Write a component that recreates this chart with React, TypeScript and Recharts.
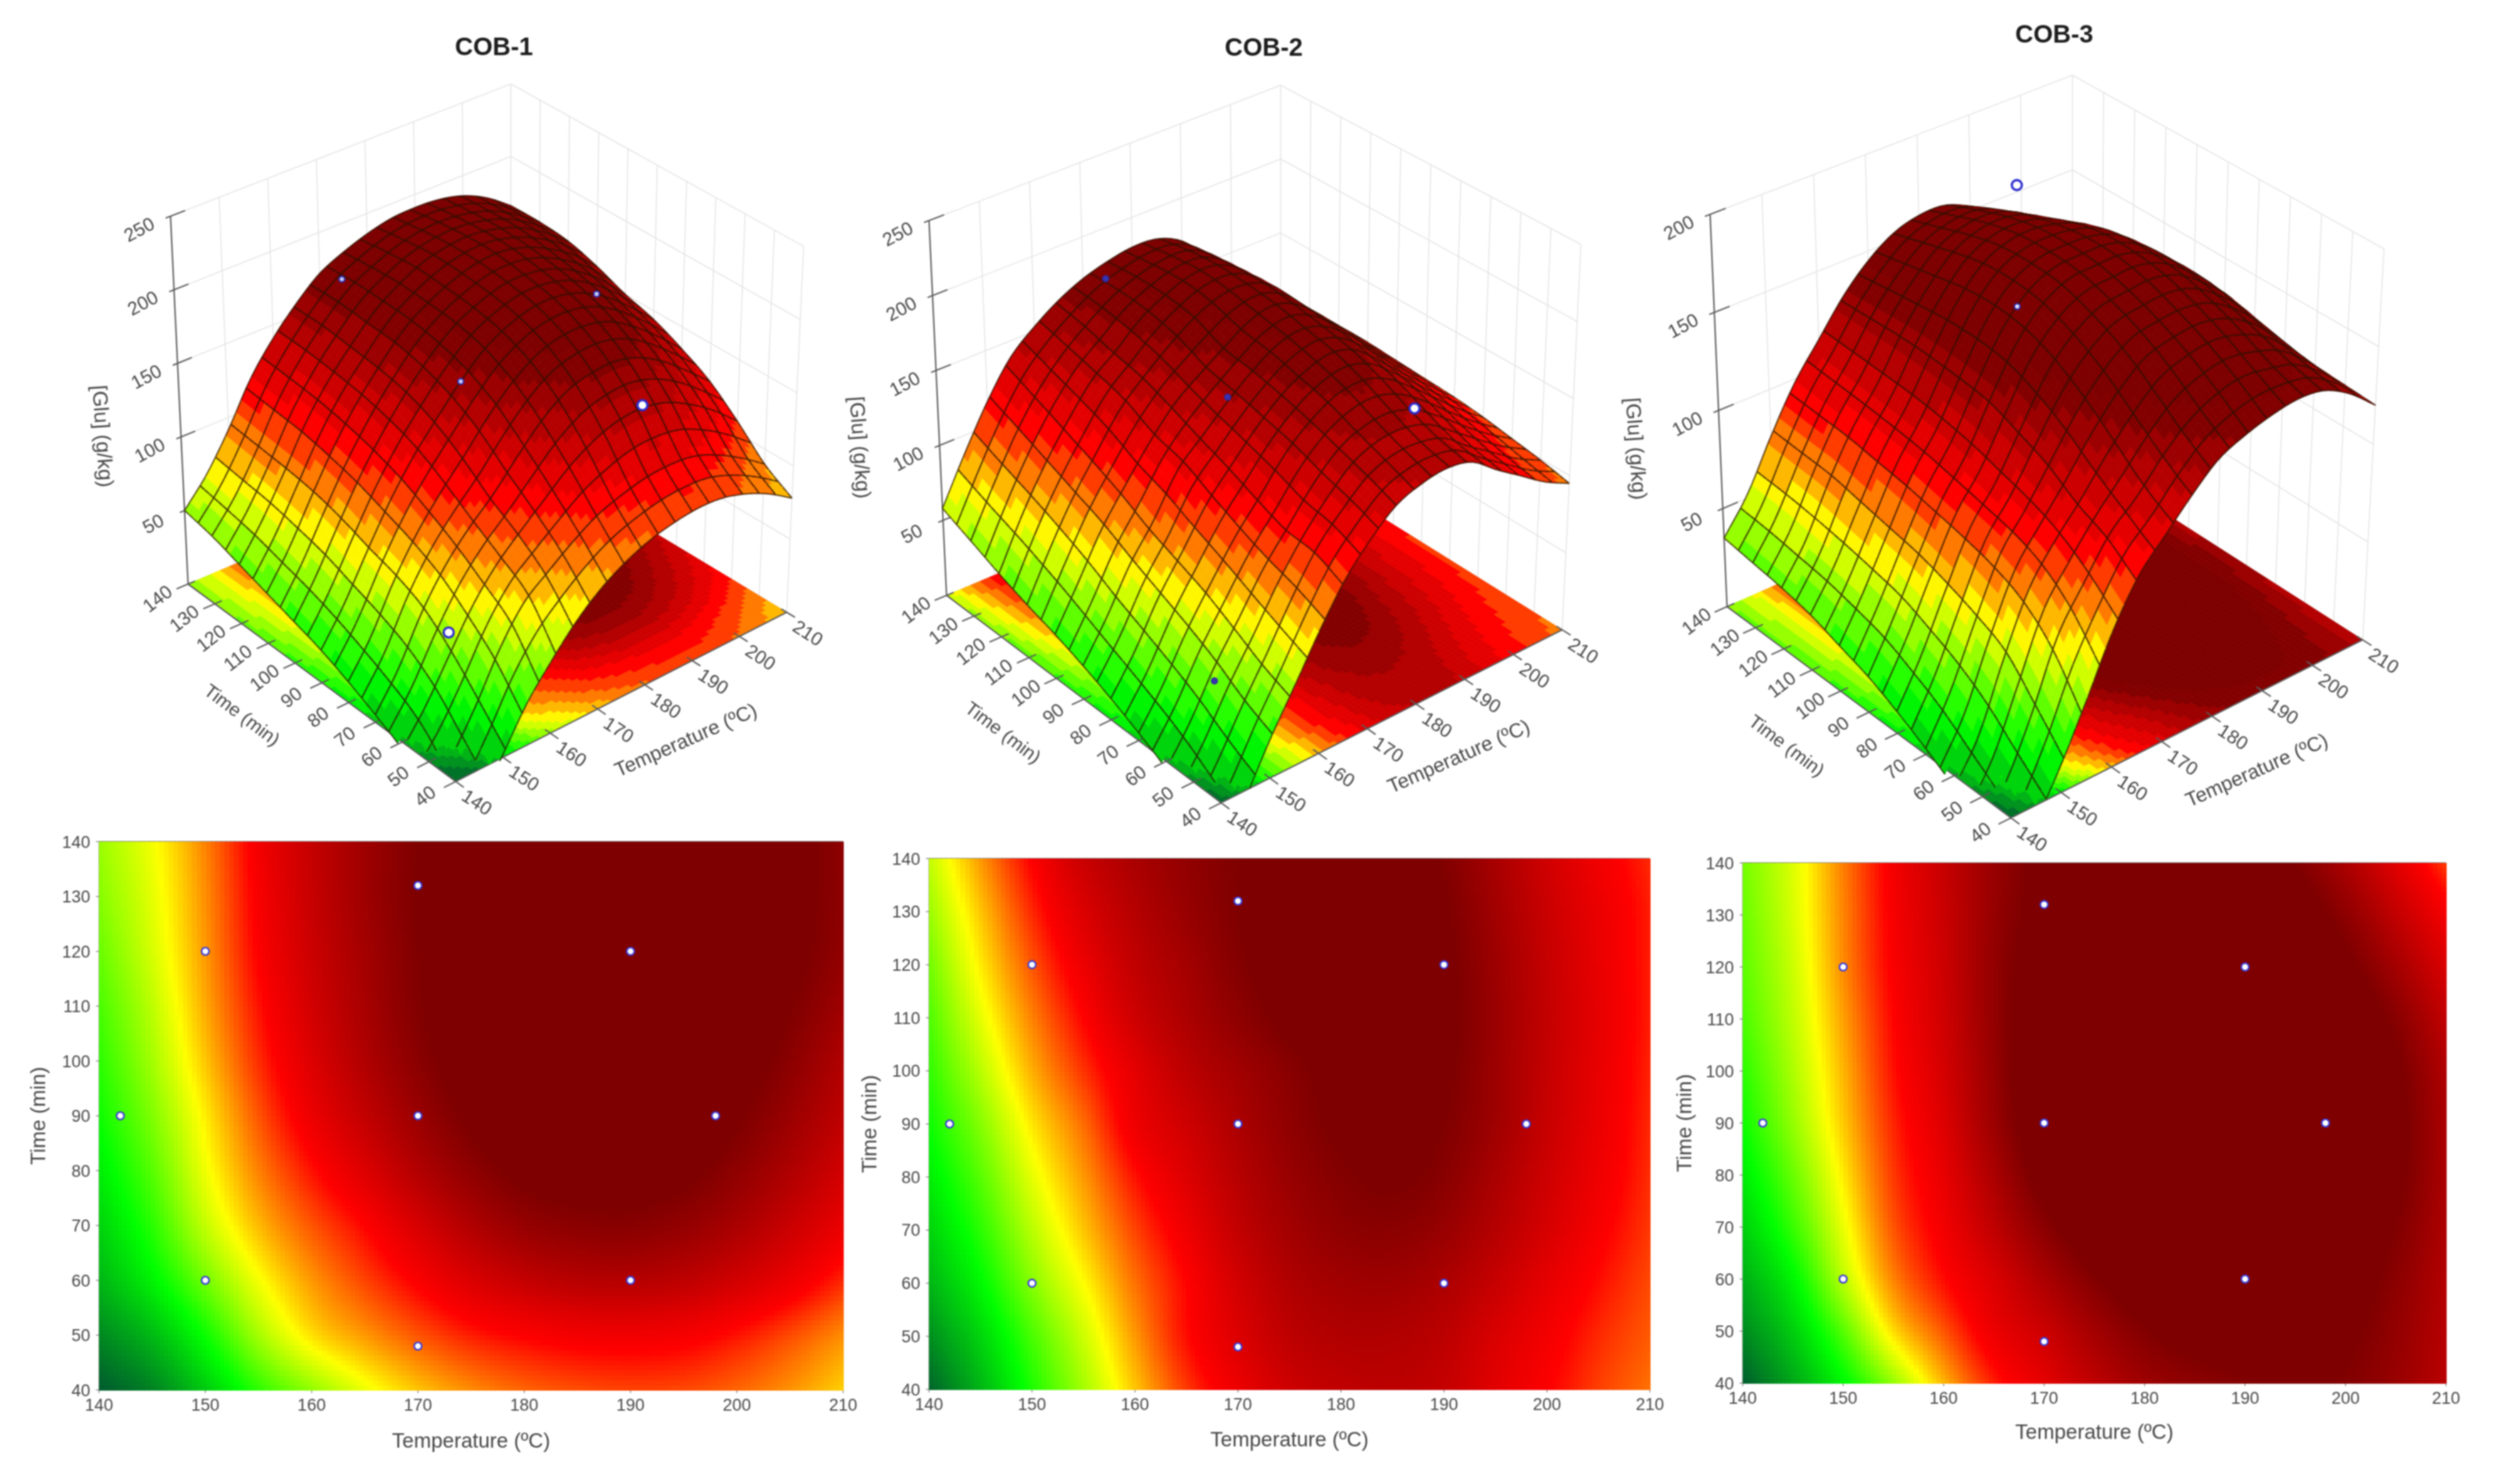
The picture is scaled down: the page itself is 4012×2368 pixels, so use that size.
import { ScatterChart, Scatter, XAxis, YAxis, ReferenceLine } from 'recharts';

// shared axes of all six panels
const temperatures = [140, 145, 150, 155, 160, 165, 170, 175, 180, 185, 190, 195, 200, 205, 210];
const times = [40, 50, 60, 70, 80, 90, 100, 110, 120, 130, 140];
const temperatureTicks = [140, 150, 160, 170, 180, 190, 200, 210];
const gluTicksHigh = [50, 100, 150, 200, 250];
const gluTicksLow = [50, 100, 150, 200];

// design points of the contour maps
const designTemperature = [142, 150, 150, 170, 170, 170, 190, 190, 198];
const designTime = [90, 60, 120, 48, 90, 132, 60, 120, 90];

// [Glu], one row per time (40 to 140), one column per temperature
const cob1Glu = [
  [-35, -22, 2, 28, 48, 66, 80, 90, 97, 101, 103, 102, 97, 89, 78],
  [-20, -3, 22, 52, 75, 88, 100, 110, 116, 120, 121, 119, 112, 102, 90],
  [-5, 16, 42, 68, 88, 103, 117, 131, 141, 147, 148, 144, 135, 123, 108],
  [5, 28, 58, 82, 100, 115, 133, 150, 162, 167, 168, 163, 153, 139, 124],
  [14, 37, 67, 92, 112, 130, 149, 165, 176, 181, 181, 176, 165, 151, 135],
  [22, 45, 73, 100, 123, 142, 160, 175, 184, 189, 189, 184, 174, 160, 144],
  [28, 52, 80, 107, 130, 150, 167, 180, 188, 193, 193, 189, 180, 167, 150],
  [34, 57, 85, 112, 135, 154, 171, 182, 190, 195, 196, 192, 184, 173, 158],
  [40, 62, 88, 116, 138, 156, 172, 183, 191, 195, 196, 193, 187, 177, 164],
  [46, 65, 90, 118, 140, 158, 173, 182, 189, 193, 194, 192, 187, 178, 166],
  [50, 68, 92, 120, 141, 158, 172, 180, 186, 190, 191, 190, 186, 178, 166],
];
const cob2Glu = [
  [-32, -5, 25, 52, 80, 105, 123, 137, 143, 145, 141, 128, 116, 104, 95],
  [-18, 6, 34, 60, 88, 113, 130, 144, 150, 150, 145, 132, 120, 108, 99],
  [-5, 18, 46, 70, 95, 115, 135, 150, 157, 158, 152, 140, 126, 113, 102],
  [5, 28, 56, 80, 103, 122, 142, 156, 165, 167, 161, 148, 133, 118, 105],
  [14, 37, 65, 88, 112, 130, 147, 161, 170, 174, 168, 153, 137, 122, 107],
  [22, 46, 74, 96, 122, 137, 152, 165, 175, 178, 172, 158, 140, 124, 108],
  [29, 56, 84, 106, 127, 145, 157, 168, 178, 182, 175, 159, 141, 125, 109],
  [35, 65, 92, 115, 137, 152, 165, 176, 183, 184, 177, 160, 142, 126, 110],
  [42, 73, 100, 123, 143, 156, 170, 179, 185, 185, 176, 159, 141, 125, 110],
  [50, 80, 108, 131, 148, 161, 172, 179, 183, 183, 174, 157, 139, 124, 110],
  [58, 88, 116, 139, 153, 164, 172, 177, 180, 179, 171, 154, 136, 121, 108],
];
const cob3Glu = [
  [-28, -8, 14, 40, 68, 90, 104, 118, 130, 136, 140, 142, 140, 132, 120],
  [-16, 3, 30, 62, 82, 101, 113, 128, 140, 147, 150, 148, 144, 134, 121],
  [-6, 14, 46, 75, 93, 108, 125, 140, 152, 157, 159, 156, 149, 137, 122],
  [3, 25, 54, 82, 99, 118, 137, 152, 162, 165, 166, 163, 154, 141, 124],
  [11, 33, 60, 86, 103, 125, 147, 161, 169, 171, 172, 168, 158, 145, 125],
  [18, 40, 65, 89, 107, 131, 153, 167, 174, 175, 175, 170, 160, 146, 125],
  [23, 44, 68, 92, 110, 133, 155, 169, 175, 176, 175, 170, 159, 144, 123],
  [28, 47, 71, 94, 112, 134, 154, 168, 174, 175, 172, 166, 154, 138, 117],
  [31, 49, 74, 96, 113, 134, 151, 164, 170, 171, 167, 158, 145, 128, 108],
  [33, 51, 75, 97, 114, 133, 148, 159, 164, 165, 160, 150, 136, 117, 98],
  [35, 52, 76, 98, 115, 132, 145, 154, 158, 158, 152, 141, 125, 105, 86],
];

// measured points that show on the 3D views
const cob1PointTemperature = [150, 190, 170, 170, 198];
const cob1PointTime = [60, 60, 90, 132, 90];
const cob1PointGlu = [58, 150, 160, 178, 179];
const cob1PointOnTop = [true, true, false, false, false];
const cob2PointTemperature = [170, 170, 190, 150];
const cob2PointTime = [132, 90, 60, 60];
const cob2PointGlu = [182, 155, 153, 37];
const cob2PointOnTop = [false, false, true, false];
const cob3PointTemperature = [170, 170];
const cob3PointTime = [90, 90];
const cob3PointGlu = [233, 171];
const cob3PointOnTop = [true, false];

const FONT = '"Liberation Sans", Arial, sans-serif';
const TEXT = '#474747';
const PAGE_W = 4012;
const TOP_H = 1500;

type Pt = [number, number];
type Box = { floor: Pt[]; top: Pt[] }; // front, right, back, left

const lerp = (a: number, b: number, f: number) => a + (b - a) * f;

const project = (box: Box, zTop: number, T: number, t: number, z: number) => {
  const u = (T - 140) / 70;
  const v = (t - 40) / 100;
  const w = z / zTop;
  const on = (q: Pt[], k: number) => lerp(lerp(q[0][k], q[1][k], u), lerp(q[3][k], q[2][k], u), v);
  return { sx: lerp(on(box.floor, 0), on(box.top, 0), w), sy: lerp(on(box.floor, 1), on(box.top, 1), w) };
};

const RAMP: [number, number, number, number][] = [
  [-35, 0, 90, 46],
  [20, 0, 255, 0],
  [70, 255, 255, 0],
  [115, 255, 0, 0],
  [172, 128, 0, 0],
];

const rampColor = (z: number, scale: number) => {
  const v = z / scale;
  if (v <= RAMP[0][0]) return `rgb(${RAMP[0][1]},${RAMP[0][2]},${RAMP[0][3]})`;
  for (let i = 1; i < RAMP.length; i++) {
    if (v <= RAMP[i][0]) {
      const f = (v - RAMP[i - 1][0]) / (RAMP[i][0] - RAMP[i - 1][0]);
      const c = [1, 2, 3].map(k => Math.round(lerp(RAMP[i - 1][k], RAMP[i][k], f)));
      return `rgb(${c[0]},${c[1]},${c[2]})`;
    }
  }
  return 'rgb(126,0,0)';
};

const bandColor = (z: number, scale: number) => {
  const step = 11 * scale;
  return rampColor((Math.floor(z / step) + 0.5) * step, scale);
};

// smooth curve through the read vertices, only used while painting
const catmull = (a: number, b: number, c: number, d: number, f: number) =>
  0.5 * (2 * b + (c - a) * f + (2 * a - 5 * b + 4 * c - d) * f * f + (3 * b - a - 3 * c + d) * f * f * f);

const resampleLine = (vals: number[], n: number) => {
  const out: number[] = [];
  const last = vals.length - 1;
  for (let i = 0; i <= n; i++) {
    const p = (i / n) * last;
    const k = Math.min(Math.floor(p), last - 1);
    const a = k > 0 ? vals[k - 1] : 2 * vals[0] - vals[1];
    const d = k + 2 <= last ? vals[k + 2] : 2 * vals[last] - vals[last - 1];
    out.push(catmull(a, vals[k], vals[k + 1], d, p - k));
  }
  return out;
};

const resample = (vals: number[], nu: number, nv: number) => {
  const cols = temperatures.length;
  const rows = times.length;
  const byRow: number[][] = [];
  for (let r = 0; r < rows; r++) byRow.push(resampleLine(vals.slice(r * cols, (r + 1) * cols), nu));
  const out = new Array((nu + 1) * (nv + 1));
  for (let i = 0; i <= nu; i++) {
    const line = resampleLine(byRow.map(row => row[i]), nv);
    for (let j = 0; j <= nv; j++) out[j * (nu + 1) + i] = line[j];
  }
  return out as number[];
};

const NU = 60;
const NV = 60;
const MESH = 3;

const cache = new Map<string, any>();

const memo = (key: string, build: () => any) => {
  if (!cache.has(key)) cache.set(key, build());
  return cache.get(key);
};

const pointsKey = (props: any) => {
  const p = props.points[0];
  return `${p.x},${p.y},${props.points.length}`;
};

const surfaceLine = (name: string, zs: number[], scale: number) => (props: any) =>
  memo(`s${name}${pointsKey(props)}`, () => {
    const x = resample(props.points.map((p: any) => p.x), NU, NV);
    const y = resample(props.points.map((p: any) => p.y), NU, NV);
    const z = resample(zs, NU, NV);
    const at = (i: number, j: number) => j * (NU + 1) + i;
    const xy = (n: number) => `${x[n].toFixed(1)} ${y[n].toFixed(1)}`;
    const items: any[] = [];
    for (let j = NV - 1; j >= 0; j--) {
      for (let i = NU - 1; i >= 0; i--) {
        const a = at(i, j);
        const b = at(i + 1, j);
        const c = at(i + 1, j + 1);
        const d = at(i, j + 1);
        const mid = (z[a] + z[b] + z[c] + z[d]) / 4;
        if (mid <= 0) continue;
        const fill = bandColor(mid, scale);
        items.push(<path key={`f${a}`} d={`M${xy(a)}L${xy(b)}L${xy(c)}L${xy(d)}Z`} fill={fill} stroke={fill} strokeWidth={0.8} />);
        let mesh = '';
        if (i % MESH === 0) mesh += `M${xy(a)}L${xy(d)}`;
        if ((i + 1) % MESH === 0) mesh += `M${xy(b)}L${xy(c)}`;
        if (j % MESH === 0) mesh += `M${xy(a)}L${xy(b)}`;
        if ((j + 1) % MESH === 0) mesh += `M${xy(d)}L${xy(c)}`;
        if (mesh) items.push(<path key={`m${a}`} d={mesh} fill="none" stroke="rgba(40,18,0,0.72)" strokeWidth={2.2} />);
      }
    }
    return <g>{items}</g>;
  });

const floorLine = (name: string, zs: number[], scale: number) => (props: any) =>
  memo(`f${name}${pointsKey(props)}`, () => {
    const n = 70;
    const x = resample(props.points.map((p: any) => p.x), n, n);
    const y = resample(props.points.map((p: any) => p.y), n, n);
    const z = resample(zs, n, n);
    const at = (i: number, j: number) => j * (n + 1) + i;
    const xy = (k: number) => `${x[k].toFixed(1)} ${y[k].toFixed(1)}`;
    const items: any[] = [];
    for (let j = 0; j < n; j++) {
      for (let i = 0; i < n; i++) {
        const a = at(i, j);
        const b = at(i + 1, j);
        const c = at(i + 1, j + 1);
        const d = at(i, j + 1);
        const fill = bandColor((z[a] + z[b] + z[c] + z[d]) / 4, scale);
        items.push(<path key={a} d={`M${xy(a)}L${xy(b)}L${xy(c)}L${xy(d)}Z`} fill={fill} stroke={fill} strokeWidth={0.8} />);
      }
    }
    return <g>{items}</g>;
  });

const heatLine = (name: string, zs: number[], scale: number) => (props: any) =>
  memo(`h${name}${pointsKey(props)}`, () => {
    const nu = 160;
    const nv = 110;
    const x = resample(props.points.map((p: any) => p.x), nu, nv);
    const y = resample(props.points.map((p: any) => p.y), nu, nv);
    const z = resample(zs, nu, nv);
    const at = (i: number, j: number) => j * (nu + 1) + i;
    const items: any[] = [];
    for (let j = 0; j < nv; j++) {
      let start = 0;
      let run = '';
      for (let i = 0; i <= nu; i++) {
        const fill = i < nu ? rampColor((z[at(i, j)] + z[at(i + 1, j)] + z[at(i, j + 1)] + z[at(i + 1, j + 1)]) / 4, scale) : '';
        if (fill !== run) {
          if (run) {
            const a = at(start, j);
            const d = at(start, j + 1);
            items.push(
              <rect key={`${j}-${start}`} x={x[a]} y={y[d]} width={x[at(i, j)] - x[a] + 0.7} height={y[a] - y[d] + 0.7} fill={run} shapeRendering="crispEdges" />,
            );
          }
          start = i;
          run = fill;
        }
      }
    }
    return <g>{items}</g>;
  });

// consecutive pairs of points become separate segments
const segmentLine = (stroke: string, width: number) => (props: any) => {
  let d = '';
  props.points.forEach((p: any, i: number) => {
    d += `${i % 2 === 0 ? 'M' : 'L'}${p.x} ${p.y}`;
  });
  return <path d={d} fill="none" stroke={stroke} strokeWidth={width} />;
};

const NoDot = () => null;

const tickText = (dx: number, dy: number, angle: number) => (p: any) => {
  const x = p.cx + dx;
  const y = p.cy + dy;
  return (
    <text x={x} y={y} transform={`rotate(${angle} ${x} ${y})`} textAnchor="middle" dominantBaseline="central"
      fontFamily={FONT} fontSize={30} fill={TEXT}>
      {p.payload.label}
    </text>
  );
};

const RingDot = (p: any) => (
  <circle cx={p.cx} cy={p.cy} r={6} fill="#ffffff" stroke="#3b3bd6" strokeWidth={2.6} />
);

const pointDot3D = (dimFill: string) => (p: any) =>
  p.payload.onTop ? (
    <circle cx={p.cx} cy={p.cy} r={8} fill="#ffffff" stroke="#2b2bd0" strokeWidth={3.6} />
  ) : (
    <circle cx={p.cx} cy={p.cy} r={4.5} fill={dimFill} stroke="#2a2ab0" strokeWidth={2.4} />
  );

type Panel = {
  name: string;
  zs: number[];
  box: Box;
  zTop: number;
  zTicks: number[];
  scale: number;
  dimFill: string;
  pointT: number[];
  pointTime: number[];
  pointZ: number[];
  pointTop: boolean[];
  title: Pt;
  timeTitle: Pt;
  tempTitle: Pt;
  gluTitle: Pt;
  frame: { left: number; right: number; top: number; bottom: number };
  xTitle: Pt;
  yTitleX: number;
};

const panels: Panel[] = [
  {
    name: 'COB-1', zs: cob1Glu.flat(),
    box: { floor: [[727, 1247], [1255, 977], [815, 712], [300, 932]], top: [[724, 650], [1282, 393], [815, 134], [272, 345]] },
    zTop: 250, zTicks: gluTicksHigh, scale: 1, dimFill: '#c8c8f4',
    pointT: cob1PointTemperature, pointTime: cob1PointTime, pointZ: cob1PointGlu, pointTop: cob1PointOnTop,
    title: [788, 74], timeTitle: [386, 1141], tempTitle: [1094, 1181], gluTitle: [164, 696],
    frame: { left: 158, right: 1345, top: 1343, bottom: 2218 }, xTitle: [750, 2299], yTitleX: 60,
  },
  {
    name: 'COB-2', zs: cob2Glu.flat(),
    box: { floor: [[1948, 1281], [2492, 1005], [2043, 725], [1510, 950]], top: [[1945, 668], [2522, 390], [2043, 136], [1482, 352]] },
    zTop: 250, zTicks: gluTicksHigh, scale: 1, dimFill: '#3d34a8',
    pointT: cob2PointTemperature, pointTime: cob2PointTime, pointZ: cob2PointGlu, pointTop: cob2PointOnTop,
    title: [2016, 75], timeTitle: [1600, 1169], tempTitle: [2327, 1207], gluTitle: [1372, 714],
    frame: { left: 1482, right: 2632, top: 1370, bottom: 2217 }, xTitle: [2055, 2297], yTitleX: 1386,
  },
  {
    name: 'COB-3', zs: cob3Glu.flat(),
    box: { floor: [[3208, 1305], [3769, 1021], [3306, 724], [2755, 968]], top: [[3202, 665], [3803, 397], [3306, 120], [2728, 342]] },
    zTop: 200, zTicks: gluTicksLow, scale: 0.82, dimFill: '#e0e0fa',
    pointT: cob3PointTemperature, pointTime: cob3PointTime, pointZ: cob3PointGlu, pointTop: cob3PointOnTop,
    title: [3277, 54], timeTitle: [2850, 1190], tempTitle: [3600, 1229], gluTitle: [2610, 716],
    frame: { left: 2780, right: 3902, top: 1377, bottom: 2207 }, xTitle: [3339, 2285], yTitleX: 2686,
  },
];

const gridVertices = () =>
  times.flatMap((t, r) => temperatures.map((T, c) => ({ T, t, r, c })));

const surfaceSeries = (p: Panel) => {
  const verts = gridVertices();
  const at = (T: number, t: number, z: number) => project(p.box, p.zTop, T, t, z);

  const walls: any[] = [];
  const addSeg = (a: any, b: any) => walls.push(a, b);
  const allZ = [...p.zTicks, p.zTop];
  allZ.forEach(z => {
    addSeg(at(140, 140, z), at(210, 140, z));
    addSeg(at(210, 140, z), at(210, 40, z));
  });
  temperatureTicks.forEach(T => addSeg(at(T, 140, 0), at(T, 140, p.zTop)));
  times.forEach(t => addSeg(at(210, t, 0), at(210, t, p.zTop)));
  addSeg(at(140, 140, 0), at(210, 140, 0));
  addSeg(at(210, 140, 0), at(210, 40, 0));

  const axes: any[] = [];
  const addAxis = (a: any, b: any) => axes.push(a, b);
  addAxis(at(140, 140, 0), at(140, 140, p.zTop));
  addAxis(at(140, 140, 0), at(140, 40, 0));
  addAxis(at(140, 40, 0), at(210, 40, 0));
  times.forEach(t => addAxis(at(137.5, t, 0), at(141.5, t, 0)));
  temperatureTicks.forEach(T => addAxis(at(T, 37, 0), at(T, 42, 0)));
  [...p.zTicks, p.zTop].forEach(z => addAxis(at(139, 140, z), at(143, 140, z)));

  const timeLabels = times.map(t => ({ ...at(140, t, 0), label: t }));
  const tempLabels = temperatureTicks.map(T => ({ ...at(T, 40, 0), label: T }));
  const gluLabels = p.zTicks.map(z => ({ ...at(140, 140, z), label: z }));
  const dots = p.pointT.map((T, i) => ({ ...at(T, p.pointTime[i], p.pointZ[i]), onTop: p.pointTop[i] }));

  const common = { isAnimationActive: false as const, shape: NoDot };
  return [
    <Scatter key={`${p.name}-walls`} data={walls} line={segmentLine('#e4e4e4', 1.6)} {...common} />,
    <Scatter key={`${p.name}-floor`} data={verts.map(v => at(v.T, v.t, 0))} line={floorLine(p.name, p.zs, p.scale)} {...common} />,
    <Scatter key={`${p.name}-axes`} data={axes} line={segmentLine('#5a5a5a', 2.2)} {...common} />,
    <Scatter key={`${p.name}-surface`} data={verts.map((v, i) => at(v.T, v.t, p.zs[i]))} line={surfaceLine(p.name, p.zs, p.scale)} {...common} />,
    <Scatter key={`${p.name}-time`} data={timeLabels} isAnimationActive={false} shape={tickText(-49, 23, -38)} />,
    <Scatter key={`${p.name}-temp`} data={tempLabels} isAnimationActive={false} shape={tickText(34, 33, 33)} />,
    <Scatter key={`${p.name}-glu`} data={gluLabels} isAnimationActive={false} shape={tickText(-50, 21, -28)} />,
    <Scatter key={`${p.name}-dots`} data={dots} isAnimationActive={false} shape={pointDot3D(p.dimFill)} />,
  ];
};

const FreeText = ({ at, angle = 0, size = 30, bold = false, color = TEXT, children }: any) => (
  <div
    style={{
      position: 'absolute', left: at[0], top: at[1], transform: `translate(-50%, -50%) rotate(${angle}deg)`,
      fontFamily: FONT, fontSize: size, fontWeight: bold ? 700 : 400, color, whiteSpace: 'nowrap',
    }}
  >
    {children}
  </div>
);

const ContourMap = ({ panel }: { panel: Panel }) => {
  const { frame } = panel;
  const yAxisW = frame.left - panel.yTitleX + 40;
  const xAxisH = panel.xTitle[1] - frame.bottom + 24;
  const verts = gridVertices();
  const design = designTemperature.map((T, i) => ({ T, t: designTime[i] }));
  const tickStyle = { fontFamily: FONT, fontSize: 27, fill: TEXT };
  const labelStyle = { fontFamily: FONT, fontSize: 33, fill: TEXT };
  return (
    <div style={{ position: 'absolute', left: frame.left - yAxisW, top: frame.top - 30 }}>
      <ScatterChart
        width={yAxisW + frame.right - frame.left + 50}
        height={30 + frame.bottom - frame.top + xAxisH}
        margin={{ top: 30, right: 50, bottom: 0, left: 0 }}
      >
        <XAxis
          type="number" dataKey="T" domain={[140, 210]} ticks={temperatureTicks} interval={0} height={xAxisH}
          tick={tickStyle} tickSize={5} tickMargin={9} stroke="#555555"
          label={{ value: 'Temperature (ºC)', position: 'insideBottom', offset: 13, ...labelStyle }}
        />
        <YAxis
          type="number" dataKey="t" domain={[40, 140]} ticks={times} interval={0} width={yAxisW}
          tick={tickStyle} tickSize={5} tickMargin={9} stroke="#555555"
          label={{ value: 'Time (min)', angle: -90, position: 'insideLeft', offset: 40, style: { textAnchor: 'middle' }, ...labelStyle }}
        />
        <Scatter data={verts} isAnimationActive={false} shape={NoDot} line={heatLine(panel.name, panel.zs, panel.scale)} />
        <ReferenceLine y={140} stroke="#555555" strokeWidth={1.5} />
        <ReferenceLine x={210} stroke="#999999" strokeWidth={1} />
        <Scatter data={design} isAnimationActive={false} shape={RingDot} />
      </ScatterChart>
    </div>
  );
};

export default function App() {
  return (
    <div style={{ position: 'absolute', left: 0, top: 0, width: PAGE_W, height: 2368, overflow: 'hidden', background: '#fff', filter: 'blur(0.9px)' }}>
      <div style={{ position: 'absolute', left: 0, top: 0 }}>
        <ScatterChart width={PAGE_W} height={TOP_H} margin={{ top: 0, right: 0, bottom: 0, left: 0 }}>
          <XAxis type="number" dataKey="sx" domain={[0, PAGE_W]} hide />
          <YAxis type="number" dataKey="sy" domain={[0, TOP_H]} reversed hide />
          {panels.flatMap(surfaceSeries)}
        </ScatterChart>
      </div>
      {panels.map(p => (
        <ContourMap key={p.name} panel={p} />
      ))}
      {panels.map(p => (
        <div key={p.name}>
          <FreeText at={p.title} size={40} bold color="#1c1c1c">{p.name}</FreeText>
          <FreeText at={p.timeTitle} angle={37} size={30}>Time (min)</FreeText>
          <FreeText at={p.tempTitle} angle={-24} size={32}>Temperature (ºC)</FreeText>
          <FreeText at={p.gluTitle} angle={86} size={33}>[Glu] (g/kg)</FreeText>
        </div>
      ))}
    </div>
  );
}
